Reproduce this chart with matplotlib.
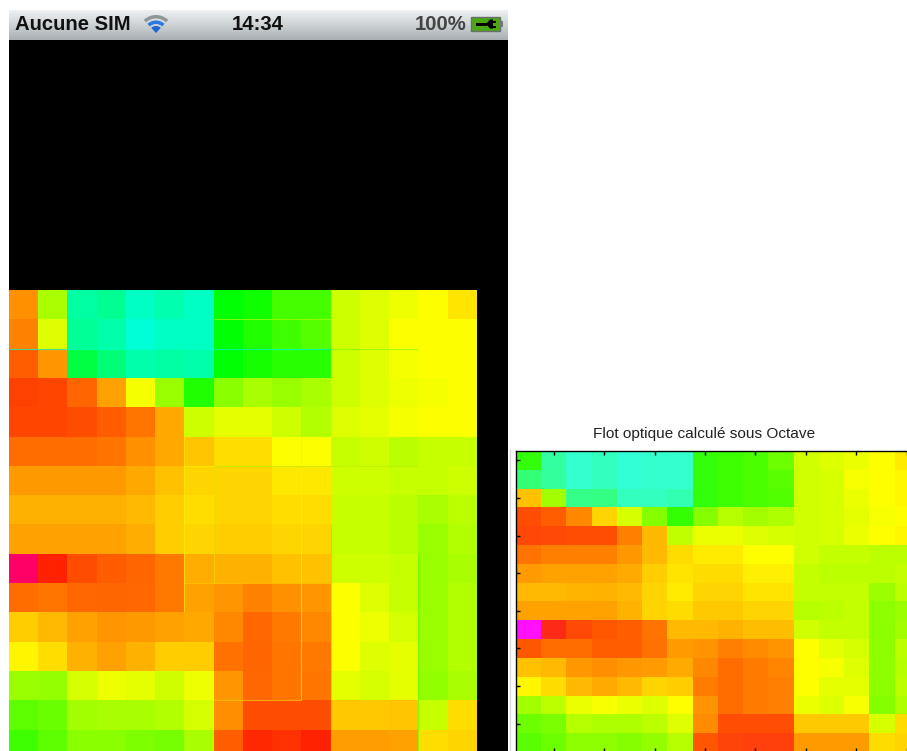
import matplotlib
matplotlib.use('Agg')
from matplotlib import pyplot as plt
from matplotlib.colors import LinearSegmentedColormap
from matplotlib.patches import Rectangle, Wedge, Polygon
import numpy as np

W, H = 907, 751
plt.rcParams['font.family'] = ['Liberation Sans', 'DejaVu Sans']

# flow values (degrees, negative = past red)
phone_rows = [
    [34, 80, 158, 154, 165, 161, 165, 120, 116, 104, 104, 72, 68, 64, 60, 54],
    [30, 68, 155, 160, 170, 165, 165, 120, 112, 105, 100, 72, 68, 60, 60, 60],
    [22, 35, 135, 148, 160, 158, 160, 120, 115, 110, 110, 72, 68, 62, 60, 60],
    [15, 16, 24, 38, 62, 84, 112, 88, 80, 84, 80, 72, 68, 64, 62, 60],
    [16, 16, 18, 22, 28, 40, 72, 66, 66, 72, 78, 68, 66, 62, 60, 60],
    [26, 26, 26, 28, 34, 40, 46, 52, 52, 60, 60, 74, 72, 76, 74, 74],
    [36, 36, 36, 36, 40, 45, 50, 50, 50, 55, 55, 72, 72, 74, 74, 72],
    [42, 42, 42, 42, 44, 48, 52, 50, 50, 52, 52, 74, 74, 76, 80, 76],
    [38, 38, 38, 38, 41, 48, 50, 48, 48, 50, 50, 74, 74, 76, 84, 78],
    [-24, 8, 18, 22, 24, 29, 41, 42, 42, 45, 45, 72, 72, 74, 84, 80],
    [26, 28, 25, 24, 25, 29, 38, 35, 30, 34, 35, 60, 68, 74, 84, 78],
    [48, 44, 38, 35, 36, 38, 40, 32, 25, 29, 32, 60, 64, 70, 84, 78],
    [58, 52, 42, 38, 42, 48, 48, 27, 24, 28, 29, 60, 68, 66, 84, 78],
    [84, 85, 70, 64, 66, 72, 64, 35, 25, 28, 28, 66, 70, 66, 86, 80],
    [98, 95, 82, 80, 80, 78, 70, 33, 18, 18, 18, 47, 47, 46, 74, 52],
    [105, 98, 88, 88, 90, 92, 80, 22, 10, 12, 8, 37, 37, 38, 52, 50],
]
octave_rows = [
    [112, 150, 165, 160, 168, 165, 165, 112, 108, 104, 96, 72, 68, 64, 60, 55],
    [135, 148, 165, 160, 168, 165, 165, 112, 108, 104, 100, 72, 70, 62, 60, 58],
    [46, 82, 142, 140, 160, 160, 155, 112, 108, 104, 102, 72, 70, 64, 60, 58],
    [18, 22, 32, 50, 70, 90, 110, 90, 78, 82, 80, 72, 70, 66, 62, 60],
    [15, 16, 18, 18, 30, 44, 75, 64, 64, 68, 70, 72, 70, 64, 60, 58],
    [28, 30, 30, 30, 36, 44, 52, 55, 55, 60, 60, 72, 74, 74, 76, 76],
    [37, 38, 38, 38, 40, 48, 54, 52, 52, 56, 56, 74, 76, 76, 76, 74],
    [44, 44, 43, 42, 44, 50, 55, 50, 50, 54, 54, 74, 74, 74, 84, 76],
    [38, 38, 38, 38, 42, 50, 52, 47, 47, 50, 50, 78, 76, 74, 88, 84],
    [-60, 4, 16, 20, 22, 28, 44, 44, 42, 45, 45, 72, 74, 74, 88, 82],
    [20, 26, 26, 22, 22, 27, 37, 35, 30, 33, 35, 60, 66, 70, 88, 76],
    [46, 44, 36, 34, 36, 37, 40, 32, 26, 29, 31, 60, 62, 68, 88, 78],
    [58, 52, 44, 40, 44, 50, 48, 29, 26, 29, 30, 60, 66, 66, 88, 76],
    [82, 76, 64, 62, 64, 68, 60, 35, 26, 29, 30, 64, 68, 62, 90, 80],
    [96, 92, 78, 80, 80, 76, 68, 33, 18, 18, 18, 47, 47, 47, 70, 52],
    [100, 96, 88, 88, 90, 86, 78, 20, 14, 12, 12, 37, 37, 37, 52, 50],
]

title = "Flot optique calculé sous Octave"
carrier = "Aucune SIM"
clock = "14:34"
battery = "100%"

# resampling seams seen on the phone picture: cell boundary, from, to, colour
h_seams = [(2, 0, 11, '#00ffcc'), (2, 11, 14, '#88ff00'), (1, 7, 11, '#aaff00'),
           (6, 6, 7, '#ffee00'), (6, 7, 14, '#bbee00'), (10, 6, 11, '#ffcc00'),
           (14, 7, 10, '#ffcc00')]
v_seams = [(6, 5, 11, '#ffee00'), (7, 5, 10, '#eedd00'), (10, 5, 14, '#ffee00'),
           (11, 8, 16, '#66ff00'), (14, 9, 16, '#66ff00')]


def make_cmap(nodes):
    lo, hi = nodes[0][0], nodes[-1][0]
    return LinearSegmentedColormap.from_list(
        'flow', [((v - lo) / (hi - lo), c) for v, c in nodes]), lo, hi


def px_axes(fig, left, top, right, bottom):
    return fig.add_axes([left / W, 1 - bottom / H, (right - left) / W, (bottom - top) / H])


fig = plt.figure(figsize=(W / 100, H / 100), dpi=100, facecolor='white')

# pixel space overlay for the phone chrome
bg = fig.add_axes([0, 0, 1, 1])
bg.set_xlim(0, W)
bg.set_ylim(H, 0)
bg.axis('off')
bg.add_patch(Rectangle((9, 40), 499, H - 40, color='black', lw=0))
bar = np.linspace(0, 1, 30)[:, None]
bg.imshow(bar, extent=(9, 508, 40, 10), aspect='auto',
          cmap=LinearSegmentedColormap.from_list('bar', ['#eef1f3', '#cdd2d5', '#a9afb2']))
bg.set_xlim(0, W)
bg.set_ylim(H, 0)

bg.text(15, 25, carrier, fontsize=14.6, fontweight='bold', color='#111111', va='center')
bg.text(258, 25, clock, fontsize=14.6, fontweight='bold', color='#111111', va='center', ha='center')
bg.text(466, 25, battery, fontsize=14.6, fontweight='bold', color='#444444', va='center', ha='right')

# wifi icon
bg.add_patch(Wedge((156, 33), 18, 227, 313, width=3.5, color='#8f969a', lw=0))
bg.add_patch(Wedge((156, 33), 12.5, 227, 313, width=3.5, color='#2a78e0', lw=0))
bg.add_patch(Wedge((156, 33), 7, 227, 313, color='#1f66d0', lw=0))

# battery icon with plug
bg.add_patch(Rectangle((471, 17), 29, 14, fc='#4aa815', ec='#6a6f6a', lw=1))
bg.add_patch(Rectangle((500, 21), 3, 6, color='#777777', lw=0))
bg.add_patch(Rectangle((476, 22.5), 11, 3, color='black', lw=0))
bg.add_patch(Polygon([(486, 24), (490, 19.5), (493, 19.5), (493, 28.5), (490, 28.5)], color='black', lw=0))
bg.add_patch(Rectangle((493, 20.5), 3, 2, color='black', lw=0))
bg.add_patch(Rectangle((493, 25.5), 3, 2, color='black', lw=0))

# phone render
cmap, lo, hi = make_cmap([(-60, '#ff00ff'), (0, '#ff0000'), (60, '#ffff00'),
                          (120, '#00ff00'), (180, '#00ffff')])
ax = px_axes(fig, 9, 290, 477, 290 + 16 * 29.3)
ax.imshow(np.array(phone_rows), extent=(0, 16, 16, 0), aspect='auto', cmap=cmap,
          vmin=lo, vmax=hi, interpolation='nearest')
for y, a, b, c in h_seams:
    ax.hlines(y, a, b, color=c, lw=0.8, alpha=0.7)
for x, a, b, c in v_seams:
    ax.vlines(x, a, b, color=c, lw=0.8, alpha=0.7)
ax.axis('off')

# octave figure, cut off by the right and bottom edge of the screenshot
cmap2, lo2, hi2 = make_cmap([(-60, '#ff10ff'), (0, '#ff1f1f'), (20, '#ff5500'), (60, '#ffff00'),
                             (110, '#33ff00'), (130, '#33ff66'), (170, '#33ffdd')])
ax2 = px_axes(fig, 516, 451, 516 + 16 * 25.2, 451 + 16 * 18.8)
ax2.imshow(np.array(octave_rows), extent=(0.5, 16.5, 16.5, 0.5), aspect='auto', cmap=cmap2,
           vmin=lo2, vmax=hi2, interpolation='nearest')
ax2.set_xticks(np.arange(2, 17, 2))
ax2.set_yticks(np.arange(1, 17, 2))
ax2.tick_params(direction='in', length=3, width=1, top=True, labelbottom=False, labelleft=False)
for s in ax2.spines.values():
    s.set_linewidth(1)
bg.text(704, 434, title, fontsize=11.1, color='#222222', ha='center', va='center')
bg.vlines(510, 449, H, color='#d8d8d8', lw=1)

fig.savefig('out.png', dpi=100)
plt.close()
